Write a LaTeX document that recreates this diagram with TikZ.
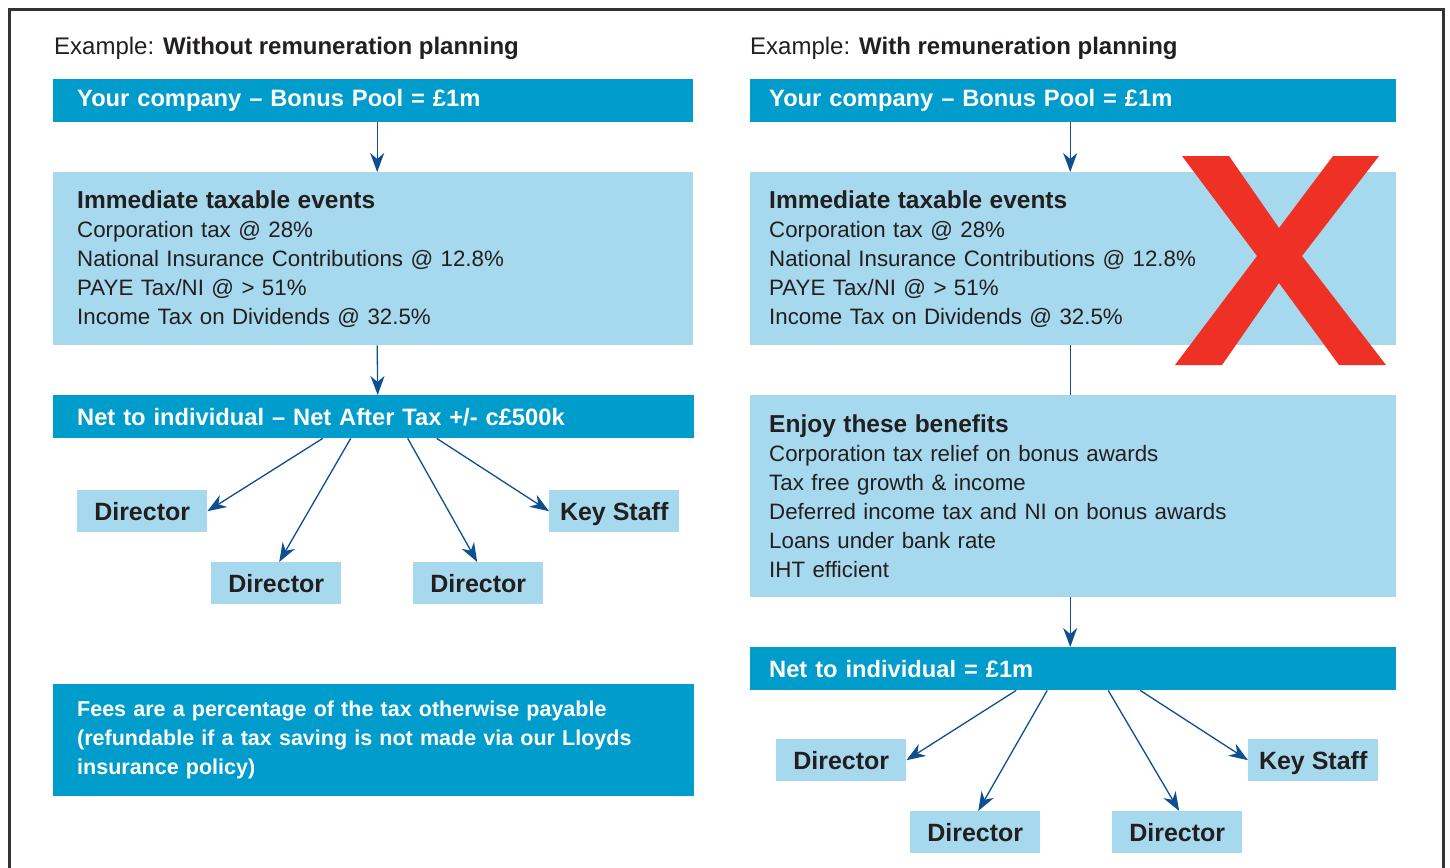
\documentclass[tikz,border=0pt]{standalone}
\usepackage{fontspec}
\setmainfont{Liberation Sans}
\usetikzlibrary{arrows.meta}
\definecolor{dblue}{HTML}{009CCB}
\definecolor{lblue}{HTML}{A6D9ED}
\definecolor{arrblue}{HTML}{0E4F92}
\definecolor{ink}{HTML}{231F20}
\definecolor{xred}{HTML}{EE3124}
\definecolor{frame}{HTML}{333333}
\newcommand{\hd}[1]{{\fontsize{24.5}{29}\selectfont\bfseries #1}}
\begin{document}
\begin{tikzpicture}[x=1pt,y=-1pt,
  every node/.style={inner sep=0pt},
  hbox/.style={fill=dblue, text=white, anchor=north west, align=left,
    font=\bfseries\fontsize{23.7}{29}\selectfont, inner xsep=24pt, inner ysep=0pt},
  feebox/.style={hbox, font=\bfseries\fontsize{21.5}{29}\selectfont},
  tbox/.style={fill=lblue, text=ink, anchor=north west, align=left,
    font=\fontsize{22.3}{29}\selectfont, inner xsep=24pt, inner ysep=0pt},
  pbox/.style={fill=lblue, text=ink, anchor=north west, align=center,
    font=\bfseries\fontsize{25}{29}\selectfont, minimum width=130pt, minimum height=42pt,
    text height=18pt, text depth=0pt},
  ttl/.style={anchor=base west, text=ink, font=\fontsize{24}{29}\selectfont},
  arr/.style={draw=arrblue, line width=1.3pt, -{Stealth[length=19pt,width=14pt,inset=6pt]}},
  conn/.style={draw=arrblue, line width=1.3pt}]
\useasboundingbox (0,0) rectangle (1450,867);
\fill[white] (0,0) rectangle (1450,867);
\draw[frame, line width=3pt] (9,880) -- (9,10) -- (1443,10) -- (1443,880);

% ---------- left column ----------
\node[ttl] (lt) at (54,55) {Example: \textbf{Without remuneration planning}};
\node[hbox, text width=592pt, minimum height=43pt] (lb1) at (53,79) {Your company -- Bonus Pool = £1m};
\node[tbox, text width=592pt, minimum height=173pt] (lb2) at (53,172)
  {\hd{Immediate taxable events}\\Corporation tax @ 28\%\\National Insurance Contributions @ 12.8\%\\PAYE Tax/NI @ > 51\%\\Income Tax on Dividends @ 32.5\%};
\node[hbox, text width=593pt, minimum height=43pt] (lb3) at (53,395) {Net to individual -- Net After Tax +/- c£500k};
\node[pbox] (ld1) at (77,490) {Director};
\node[pbox] (ld2) at (211,562) {Director};
\node[pbox] (ld3) at (413,562) {Director};
\node[pbox] (lks) at (549,490) {Key Staff};
\node[feebox, text width=593pt, minimum height=112pt] (lfee) at (53,684)
  {Fees are a percentage of the tax otherwise payable\\(refundable if a tax saving is not made via our Lloyds\\insurance policy)};

\draw[arr] ([xshift=4pt]lb1.south) -- ([xshift=4pt]lb2.north);
\draw[arr] ([xshift=4pt]lb2.south) -- ([xshift=4pt]lb3.north);
\draw[arr] ([xshift=-51pt]lb3.south) -- (ld1.east);
\draw[arr] ([xshift=-23pt]lb3.south) -- ([xshift=3pt]ld2.north);
\draw[arr] ([xshift=34pt]lb3.south) -- ([xshift=-1pt]ld3.north);
\draw[arr] ([xshift=63pt]lb3.south) -- (lks.west);

% ---------- right column ----------
\node[ttl] (rt) at (750,55) {Example: \textbf{With remuneration planning}};
\node[hbox, inner xsep=19pt, text width=608pt, minimum height=43pt] (rb1) at (750,79) {Your company -- Bonus Pool = £1m};
\node[tbox, inner xsep=19pt, text width=608pt, minimum height=173pt] (rb2) at (750,172)
  {\hd{Immediate taxable events}\\Corporation tax @ 28\%\\National Insurance Contributions @ 12.8\%\\PAYE Tax/NI @ > 51\%\\Income Tax on Dividends @ 32.5\%};
\node[tbox, inner xsep=19pt, text width=608pt, minimum height=202pt] (rb3) at (750,395)
  {\hd{Enjoy these benefits}\\Corporation tax relief on bonus awards\\Tax free growth \& income\\Deferred income tax and NI on bonus awards\\Loans under bank rate\\IHT efficient};
\node[hbox, inner xsep=19pt, text width=608pt, minimum height=43pt] (rb4) at (750,647) {Net to individual = £1m};
\node[pbox] (rd1) at (776,739) {Director};
\node[pbox] (rd2) at (910,811) {Director};
\node[pbox] (rd3) at (1112,811) {Director};
\node[pbox] (rks) at (1248,739) {Key Staff};

\draw[arr] ([xshift=-3pt]rb1.south) -- ([xshift=-3pt]rb2.north);
\draw[conn] ([xshift=-3pt]rb2.south) -- ([xshift=-3pt]rb3.north);
\draw[arr] ([xshift=-3pt]rb3.south) -- ([xshift=-3pt]rb4.north);
\draw[arr] ([xshift=-57pt]rb4.south) -- (rd1.east);
\draw[arr] ([xshift=-26pt]rb4.south) -- ([xshift=3pt]rd2.north);
\draw[arr] ([xshift=35pt]rb4.south) -- ([xshift=2pt]rd3.north);
\draw[arr] ([xshift=67pt]rb4.south) -- (rks.west);

% red cross
\fill[xred] (1182,156) -- (1229,156) -- (1279,228) -- (1333,156) -- (1379,156)
  -- (1302,256) -- (1386,365) -- (1339,365) -- (1279,283) -- (1222,365)
  -- (1175,365) -- (1257,256) -- cycle;
\end{tikzpicture}
\end{document}
